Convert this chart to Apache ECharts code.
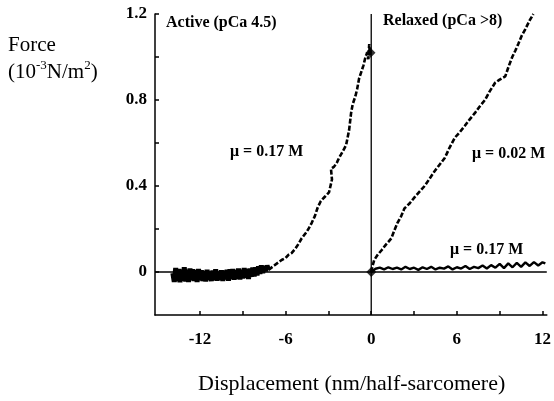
<!DOCTYPE html>
<html>
<head>
<meta charset="utf-8">
<script src="https://cdn.jsdelivr.net/npm/echarts@6/dist/echarts.min.js"></script>
<style>
html,body{margin:0;padding:0;background:#fff;}
#chart{width:554px;height:401px;}
</style>
</head>
<body>
<div id="chart"></div>
<script>
// ---- data ----
const xTicks = [-12, -9, -6, -3, 0, 3, 6, 9, 12];
const xLabels = [-12, -6, 0, 6, 12];
const yTicks = [0, 0.2, 0.4, 0.6, 0.8, 1.0, 1.2];
const yLabels = [0, 0.4, 0.8, 1.2];

// Active (pCa 4.5), mu = 0.17 M : baseline (noisy) part
const activeBase = [[-13.9,-0.005],[-13.8,-0.046],[-13.7,0.018],[-13.6,-0.042],[-13.5,0.014],[-13.4,-0.048],[-13.3,0.012],[-13.2,-0.04],[-13.1,0.022],[-13.0,-0.044],[-12.9,0.01],[-12.8,-0.046],[-12.7,0.016],[-12.6,-0.038],[-12.5,0.012],[-12.4,-0.042],[-12.3,0.008],[-12.2,-0.046],[-12.1,0.014],[-12.0,-0.038],[-11.9,0.008],[-11.8,-0.042],[-11.7,0.004],[-11.6,-0.044],[-11.5,0.01],[-11.4,-0.036],[-11.3,0.002],[-11.2,-0.042],[-11.1,0.006],[-11.0,-0.038],[-10.9,0.012],[-10.8,-0.04],[-10.7,0.002],[-10.6,-0.036],[-10.5,0.008],[-10.4,-0.042],[-10.3,0.006],[-10.2,-0.034],[-10.1,0.01],[-10.0,-0.04],[-9.9,0.012],[-9.8,-0.032],[-9.7,0.014],[-9.6,-0.036],[-9.5,0.008],[-9.4,-0.03],[-9.3,0.016],[-9.2,-0.034],[-9.1,0.01],[-9.0,-0.03],[-8.9,0.018],[-8.8,-0.026],[-8.7,0.014],[-8.6,-0.032],[-8.5,0.016],[-8.4,-0.022],[-8.3,0.02],[-8.2,-0.02],[-8.1,0.022],[-8.0,-0.016],[-7.9,0.026],[-7.8,-0.008],[-7.7,0.03],[-7.6,-0.004],[-7.5,0.026],[-7.4,0.004],[-7.3,0.03],[-7.2,0.01]];
// Active rising part
const activeRise = [[-7.2,0.01],[-7.1,0.015],[-6.8,0.03],[-6.5,0.045],[-6.28,0.056],[-6.0,0.065],[-5.8,0.08],[-5.58,0.088],[-5.3,0.11],[-5.1,0.13],[-4.87,0.157],[-4.6,0.18],[-4.4,0.2],[-4.16,0.23],[-3.95,0.26],[-3.75,0.3],[-3.53,0.33],[-3.25,0.35],[-2.96,0.37],[-2.75,0.43],[-2.82,0.48],[-2.6,0.49],[-2.4,0.51],[-2.26,0.53],[-2.0,0.56],[-1.76,0.59],[-1.55,0.66],[-1.41,0.74],[-1.3,0.78],[-1.1,0.82],[-0.99,0.85],[-0.85,0.9],[-0.7,0.93],[-0.55,0.96],[-0.4,1.0],[-0.28,1.02],[-0.2,0.99],[-0.14,1.06],[-0.1,1.01],[-0.05,1.04]];
// Relaxed (pCa > 8), mu = 0.02 M
const relaxedLow = [[0,0],[0.1,0.03],[0.21,0.056],[0.45,0.08],[0.71,0.10],[1.0,0.125],[1.2,0.14],[1.41,0.157],[1.6,0.19],[1.83,0.227],[2.1,0.26],[2.33,0.296],[2.7,0.32],[3.03,0.347],[3.4,0.375],[3.74,0.40],[4.1,0.435],[4.45,0.47],[4.8,0.5],[5.15,0.53],[5.5,0.58],[5.86,0.625],[6.2,0.65],[6.56,0.68],[6.9,0.71],[7.27,0.74],[7.6,0.77],[7.97,0.80],[8.3,0.84],[8.68,0.88],[9.0,0.895],[9.39,0.91],[9.65,0.96],[9.88,1.0],[10.1,1.03],[10.3,1.06],[10.55,1.1],[10.8,1.13],[11.1,1.17],[11.36,1.2]];
// Relaxed (pCa > 8), mu = 0.17 M
const relaxedHigh = [[0,0],[0.3,0.015],[0.6,0.02],[0.9,0.012],[1.2,0.022],[1.5,0.014],[1.8,0.02],[2.1,0.012],[2.4,0.024],[2.7,0.014],[3.0,0.02],[3.3,0.01],[3.6,0.022],[3.9,0.014],[4.2,0.024],[4.5,0.012],[4.8,0.02],[5.1,0.016],[5.4,0.026],[5.7,0.012],[6.0,0.022],[6.3,0.016],[6.6,0.028],[6.9,0.014],[7.2,0.024],[7.5,0.018],[7.8,0.03],[8.1,0.016],[8.4,0.032],[8.7,0.02],[9.0,0.038],[9.3,0.018],[9.6,0.04],[9.9,0.022],[10.2,0.042],[10.5,0.024],[10.8,0.045],[11.1,0.028],[11.4,0.046],[11.7,0.03],[12.0,0.045],[12.2,0.04]];
const blobs = [[0,0],[-0.05,1.02]];
const xRange = [-15.15, 12.3];
const yRange = [-0.2, 1.2];

// ---- chart ----
const chart = echarts.init(document.getElementById('chart'), null, {renderer:'canvas'});
const serif = "'Liberation Serif','Times New Roman',serif";
const black = '#000';
function lineSeries(data, width, type) {
  return {type:'line', data:data, showSymbol:false, symbol:'none', silent:true,
    lineStyle:{color:black, width:width, type:type||'solid'}, z:3, animation:false};
}
chart.setOption({
  animation:false,
  backgroundColor:'#fff',
  grid:{left:155, right:6, top:14, bottom:86},
  xAxis:{type:'value', min:xRange[0], max:xRange[1],
    axisLine:{show:true, onZero:false, lineStyle:{color:black, width:1.5}},
    axisTick:{show:true, inside:true, length:4, customValues:xTicks, lineStyle:{color:black, width:1.5}},
    axisLabel:{customValues:xLabels, color:black, fontFamily:serif, fontWeight:'bold', fontSize:17, margin:16,
      formatter:v=>String(v)},
    splitLine:{show:false}},
  yAxis:{type:'value', min:yRange[0], max:yRange[1],
    axisLine:{show:true, onZero:false, lineStyle:{color:black, width:1.5}},
    axisTick:{show:true, inside:true, length:4, customValues:yTicks, lineStyle:{color:black, width:1.5}},
    axisLabel:{customValues:yLabels, color:black, fontFamily:serif, fontWeight:'bold', fontSize:17, margin:8,
      formatter:v=>(Math.abs(v)<1e-9?'0':v.toFixed(1))},
    splitLine:{show:false}},
  series:[
    lineSeries([[xRange[0],0],[xRange[1],0]], 1.3),
    lineSeries([[0,yRange[0]],[0,yRange[1]]], 1.3),
    lineSeries(activeBase, 5),
    lineSeries(activeRise, 2.6, [5,2]),
    lineSeries(relaxedLow, 2.6, [5,2]),
    lineSeries(relaxedHigh, 2.4),
    {type:'scatter', data:blobs, symbol:'diamond', symbolSize:10, itemStyle:{color:black}, silent:true, z:4}
  ],
  graphic:[
    {type:'text', left:8, top:35, style:{text:'Force', font:"21px "+serif, fill:black}},
    {type:'text', left:8, top:59, style:{text:'{a|(10}{s|-3}{a|N/m}{s|2}{a|)}', fill:black,
      rich:{a:{fontSize:21, fontFamily:serif, lineHeight:24, verticalAlign:'bottom'}, s:{fontSize:13, fontFamily:serif, lineHeight:24, verticalAlign:'top'}}}},
    {type:'text', left:198, top:373, style:{text:'Displacement (nm/half-sarcomere)', font:"22px "+serif, fill:black}},
    {type:'text', left:166, top:15, style:{text:'Active (pCa 4.5)', font:"bold 16px "+serif, fill:black}},
    {type:'text', left:383, top:13, style:{text:'Relaxed (pCa >8)', font:"bold 16px "+serif, fill:black}},
    {type:'text', left:230, top:144, style:{text:'\u03bc = 0.17 M', font:"bold 16px "+serif, fill:black}},
    {type:'text', left:472, top:146, style:{text:'\u03bc = 0.02 M', font:"bold 16px "+serif, fill:black}},
    {type:'text', left:450, top:242, style:{text:'\u03bc = 0.17 M', font:"bold 16px "+serif, fill:black}}
  ]
});
</script>
</body>
</html>
